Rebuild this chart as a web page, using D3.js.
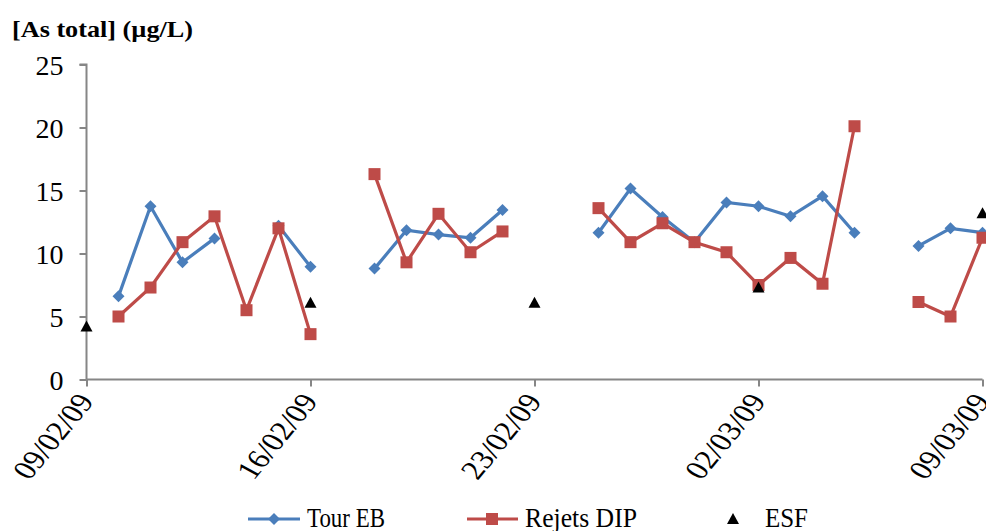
<!DOCTYPE html>
<html>
<head>
<meta charset="utf-8">
<script src="https://cdn.jsdelivr.net/npm/d3@7/dist/d3.min.js"></script>
<style>
  html, body { margin: 0; padding: 0; background: #fff; }
  svg { display: block; }
  svg text { font-family: "Liberation Serif", "Times New Roman", serif !important; fill: #000; }
</style>
</head>
<body>
<svg id="chart" width="986" height="531"></svg>
<script>
// Day offsets from 09/02/09 (0 .. 28); null = no measurement
const startDate = "2009-02-09";
const days = [0,1,2,3,4,5,6,7,8,9,10,11,12,13,14,15,16,17,18,19,20,21,22,23,24,25,26,27,28];
const tourEB = [null,6.6,13.75,9.3,11.2,null,12.2,8.95,null,8.8,11.85,11.5,11.25,13.45,null,null,11.65,15.15,12.9,10.9,14.05,13.75,12.95,14.55,11.65,null,10.6,12.0,11.65];
const rejetsDIP = [null,5.0,7.3,10.9,12.95,5.5,12.0,3.6,null,16.3,9.3,13.15,10.1,11.75,null,null,13.6,10.9,12.4,10.9,10.1,7.5,9.65,7.6,20.1,null,6.15,5.0,11.25];
const esfDays = [0,7,14,21,28];
const esf = [4.2,6.1,6.1,7.3,13.2];
const yTicks = [0,5,10,15,20,25];
const xTickLabels = ["09/02/09","16/02/09","23/02/09","02/03/09","09/03/09"];
const seriesNames = ["Tour EB","Rejets DIP","ESF"];
const yTitle = "[As total] (µg/L)";

const svg = d3.select("#chart");
const parse = d3.timeParse("%Y-%m-%d");
const t0 = parse(startDate);
const dayToDate = d => d3.timeDay.offset(t0, d);
const fmt = d3.timeFormat("%d/%m/%y");

const x = d3.scaleTime().domain([t0, dayToDate(28)]).range([86.5, 982.5]);
const y = d3.scaleLinear().domain([0, 25]).range([379.5, 64.5]);

const blue = "#4A7EBB", red = "#BE4B48", axisCol = "#868686";
const serif = '"Liberation Serif", "Times New Roman", serif';

// Y axis
const yAxis = svg.append("g").attr("transform", "translate(86.5,0)")
  .call(d3.axisLeft(y).tickValues(yTicks).tickSize(7).tickFormat(d3.format("d")))
  .attr("font-family", serif);
yAxis.select(".domain").attr("stroke", axisCol).attr("stroke-width", 2).attr("d", `M-7,${y(25)}H0V${y(0)}`);
yAxis.selectAll(".tick line").attr("stroke", axisCol).attr("stroke-width", 2);
yAxis.selectAll(".tick text").attr("x", -23).attr("dy", "0.34em")
  .attr("font-family", serif).style("font-size", "28px").attr("fill", "#000");

// X axis
const xTickDates = xTickLabels.map(s => d3.timeParse("%d/%m/%y")(s));
const xAxis = svg.append("g").attr("transform", `translate(0,${y(0)})`)
  .call(d3.axisBottom(x).tickValues(xTickDates).tickSize(7).tickFormat(fmt))
  .attr("font-family", serif);
xAxis.select(".domain").attr("stroke", axisCol).attr("stroke-width", 2).attr("d", `M${x.range()[0]},0H${x.range()[1]}`);
xAxis.selectAll(".tick line").attr("stroke", axisCol).attr("stroke-width", 2);
xAxis.selectAll(".tick text")
  .attr("y", 0).attr("dy", 0)
  .attr("text-anchor", "end")
  .attr("transform", "translate(8,22) scale(1.22,1) rotate(-56)")
  .attr("font-family", serif).style("font-size", "27px").attr("fill", "#000");

// Title
svg.append("text").attr("x", 12).attr("y", 37).text(yTitle)
  .attr("font-family", serif)
  .style("font-weight", "bold").style("font-size", "24px")
  .attr("textLength", 181).attr("lengthAdjust", "spacingAndGlyphs");

// Lines
const makeData = vals => days.map((d, i) => ({ date: dayToDate(d), v: vals[i] }));
const line = d3.line().defined(d => d.v != null).x(d => x(d.date)).y(d => y(d.v));

const blueData = makeData(tourEB);
const redData = makeData(rejetsDIP);

svg.append("path").datum(blueData).attr("fill", "none").attr("stroke", blue).attr("stroke-width", 3.2).attr("d", line);
svg.selectAll(".diamond").data(blueData.filter(d => d.v != null)).enter().append("path")
  .attr("class", "diamond")
  .attr("transform", d => `translate(${x(d.date)},${y(d.v)})`)
  .attr("d", "M0,-6L6,0L0,6L-6,0Z").attr("fill", blue);

svg.append("path").datum(redData).attr("fill", "none").attr("stroke", red).attr("stroke-width", 3.2).attr("d", line);
svg.selectAll(".square").data(redData.filter(d => d.v != null)).enter().append("rect")
  .attr("class", "square")
  .attr("x", d => x(d.date) - 6).attr("y", d => y(d.v) - 6)
  .attr("width", 12).attr("height", 12).attr("fill", red);

svg.selectAll(".tri").data(esfDays.map((d, i) => ({ date: dayToDate(d), v: esf[i] }))).enter().append("path")
  .attr("class", "tri")
  .attr("transform", d => `translate(${x(d.date)},${y(d.v)})`)
  .attr("d", "M0,-6L6,5L-6,5Z").attr("fill", "#000");

// Legend
const lg = svg.append("g").attr("font-family", serif);
const ly = 519;
lg.append("line").attr("x1", 248).attr("x2", 300).attr("y1", ly).attr("y2", ly).attr("stroke", blue).attr("stroke-width", 3.2);
lg.append("path").attr("transform", `translate(274,${ly})`).attr("d", "M0,-6L6,0L0,6L-6,0Z").attr("fill", blue);
lg.append("text").attr("x", 307).attr("y", 527).text(seriesNames[0]).attr("font-family", serif).style("font-size", "28px").attr("textLength", 78).attr("lengthAdjust", "spacingAndGlyphs");

lg.append("line").attr("x1", 467).attr("x2", 518).attr("y1", ly).attr("y2", ly).attr("stroke", red).attr("stroke-width", 3.2);
lg.append("rect").attr("x", 486).attr("y", ly - 6).attr("width", 12).attr("height", 12).attr("fill", red);
lg.append("text").attr("x", 525).attr("y", 527).text(seriesNames[1]).attr("font-family", serif).style("font-size", "28px").attr("textLength", 112).attr("lengthAdjust", "spacingAndGlyphs");

lg.append("path").attr("transform", `translate(733,${ly})`).attr("d", "M0,-6L6,5L-6,5Z").attr("fill", "#000");
lg.append("text").attr("x", 765).attr("y", 527).text(seriesNames[2]).attr("font-family", serif).style("font-size", "28px").attr("textLength", 43).attr("lengthAdjust", "spacingAndGlyphs");
</script>
</body>
</html>
